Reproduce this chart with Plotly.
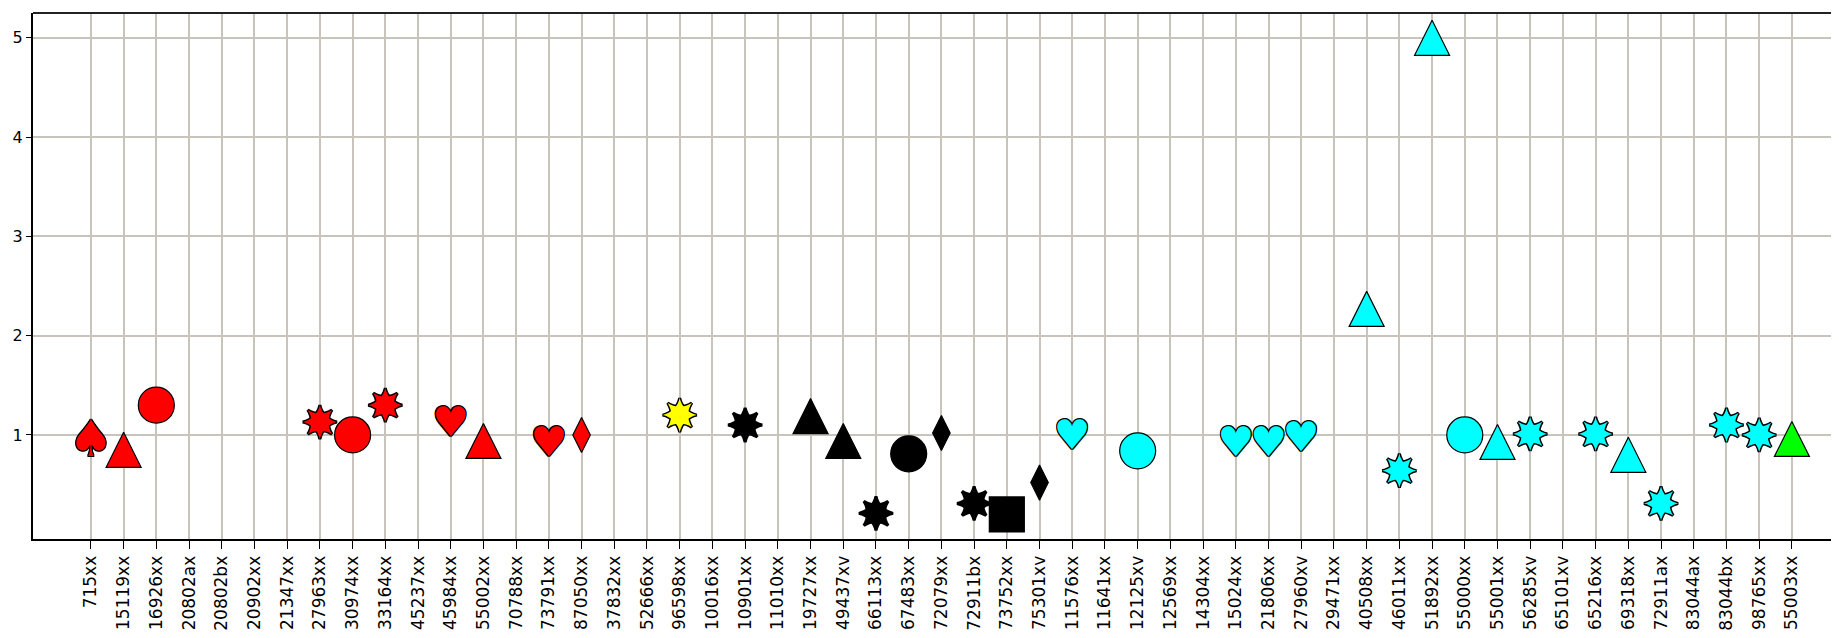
import plotly.graph_objects as go

categories = [
    "715xx", "15119xx", "16926xx", "20802ax", "20802bx", "20902xx", "21347xx",
    "27963xx", "30974xx", "33164xx", "45237xx", "45984xx", "55002xx", "70788xx",
    "73791xx", "87050xx", "37832xx", "52666xx", "96598xx", "10016xx", "10901xx",
    "11010xx", "19727xx", "49437xv", "66113xx", "67483xx", "72079xx", "72911bx",
    "73752xx", "75301xv", "11576xx", "11641xx", "12125xv", "12569xx", "14304xx",
    "15024xx", "21806xx", "27960xv", "29471xx", "40508xx", "46011xx", "51892xx",
    "55000xx", "55001xx", "56285xv", "65101xv", "65216xx", "69318xx", "72911ax",
    "83044ax", "83044bx", "98765xx", "55003xx",
]

point_cats = [
    "715xx", "15119xx", "16926xx", "27963xx", "30974xx", "33164xx", "45984xx",
    "55002xx", "73791xx", "87050xx", "96598xx", "10901xx", "19727xx", "49437xv",
    "66113xx", "67483xx", "72079xx", "72911bx", "73752xx", "75301xv", "11576xx",
    "12125xv", "15024xx", "21806xx", "27960xv", "40508xx", "46011xx", "51892xx",
    "55000xx", "55001xx", "56285xv", "65216xx", "69318xx", "72911ax", "83044bx",
    "98765xx", "55003xx",
]
point_values = [
    0.97, 0.85, 1.30, 1.13, 1.00, 1.30, 1.15,
    0.94, 0.95, 1.00, 1.20, 1.10, 1.19, 0.94,
    0.21, 0.81, 1.02, 0.31, 0.20, 0.52, 1.02,
    0.84, 0.95, 0.95, 1.00, 2.27, 0.64, 5.00,
    1.00, 0.93, 1.01, 1.01, 0.80, 0.31, 1.10,
    1.00, 0.96,
]
point_shapes = [
    "spade", "triangle", "circle", "star", "circle", "star", "heart",
    "triangle", "heart", "diamond", "star", "star", "triangle", "triangle",
    "star", "circle", "diamond", "star", "square", "diamond", "heart",
    "circle", "heart", "heart", "heart", "triangle", "star", "triangle",
    "circle", "triangle", "star", "star", "triangle", "star", "star",
    "star", "triangle",
]
point_colors = [
    "red", "red", "red", "red", "red", "red", "red",
    "red", "red", "red", "yellow", "black", "black", "black",
    "black", "black", "black", "black", "black", "black", "cyan",
    "cyan", "cyan", "cyan", "cyan", "cyan", "cyan", "cyan",
    "cyan", "cyan", "cyan", "cyan", "cyan", "cyan", "cyan",
    "cyan", "green",
]
color_map = {"red": "#ff0000", "yellow": "#ffff00", "black": "#000000",
             "cyan": "#00ffff", "green": "#00ff00"}
reference_value = 1.0

fig = go.Figure()

def subset(shape):
    idx = [i for i, s in enumerate(point_shapes) if s == shape]
    return ([point_cats[i] for i in idx], [point_values[i] for i in idx],
            [color_map[point_colors[i]] for i in idx])

# simple marker shapes
for shape, sym, size in [("circle", "circle", 36), ("diamond", "diamond-tall", 25),
                         ("square", "square", 35)]:
    xs, ys, cs = subset(shape)
    fig.add_trace(go.Scatter(x=xs, y=ys, mode="markers", showlegend=False, hoverinfo="skip",
                             marker=dict(symbol=sym, size=size, color=cs,
                                         line=dict(color="black", width=1.2))))

# equilateral-looking triangles centred on the value
xs, ys, cs = subset("triangle")
fig.add_trace(go.Scatter(x=xs, y=ys, mode="markers", showlegend=False, hoverinfo="skip",
                         marker=dict(symbol="arrow-down", size=35, angle=180, standoff=17.5,
                                     color=cs, line=dict(color="black", width=1.2))))

# 8-point stars: outline layer then fill layer
xs, ys, cs = subset("star")
for lw in (3, 0):
    for ang in (0, 45):
        fig.add_trace(go.Scatter(x=xs, y=ys, mode="markers", showlegend=False, hoverinfo="skip",
                                 marker=dict(symbol="star-square", size=22, angle=ang, color=cs,
                                             line=dict(color="black", width=lw))))

# hearts and spades as glyphs (shifted down a little so the glyph is centred on the value)
outline = ("1px 0 0 #000, -1px 0 0 #000, 0 1px 0 #000, 0 -1px 0 #000, "
           "1px 1px 0 #000, -1px -1px 0 #000, 1px -1px 0 #000, -1px 1px 0 #000")
for shape, glyph, fsize in [("heart", "\u2665", 41), ("spade", "\u2660", 50)]:
    xs, ys, cs = subset(shape)
    label = "<span style='baseline-shift:-6px'>" + glyph + "</span>"
    fig.add_trace(go.Scatter(x=xs, y=ys, mode="text", text=[label] * len(xs),
                             textposition="middle center", showlegend=False, hoverinfo="skip",
                             textfont=dict(family="DejaVu Sans", size=fsize, color=cs,
                                           shadow=outline)))

fig.add_shape(type="line", xref="paper", yref="y", x0=0.008, x1=1, y0=reference_value,
              y1=reference_value, line=dict(color="#ff00ff", width=2), layer="below")
fig.add_shape(type="line", xref="paper", yref="paper", x0=0, x1=1, y0=1, y1=1,
              line=dict(color="#222222", width=2))

# the page body has an 8px margin, so the figure is offset by 8px right and down
fig.update_layout(
    width=1831, height=630,
    margin=dict(l=25, r=0, t=5, b=99, autoexpand=False),
    paper_bgcolor="white", plot_bgcolor="white",
    font=dict(family="DejaVu Sans, Verdana, sans-serif", size=16, color="black"),
    xaxis=dict(type="category", categoryorder="array", categoryarray=categories,
               tickvals=categories, ticktext=categories, automargin=False,
               range=[-1.77, 53.44], tickangle=-90, showgrid=True, gridcolor="#c8c4bc",
               gridwidth=2, showline=True, linecolor="black", linewidth=2,
               ticks="outside", ticklen=8, tickcolor="black", tickwidth=1,
               tickfont=dict(size=17), zeroline=False, fixedrange=True),
    yaxis=dict(range=[-0.048, 5.25], tickvals=[1, 2, 3, 4, 5], ticktext=["1", "2", "3", "4", "5"],
               automargin=False,
               showgrid=True, gridcolor="#c8c4bc", gridwidth=2, showline=True,
               linecolor="black", linewidth=2, ticks="outside", ticklen=5,
               tickcolor="black", tickwidth=1, tickfont=dict(size=16),
               zeroline=False, fixedrange=True),
)

fig.write_html("out.html")
